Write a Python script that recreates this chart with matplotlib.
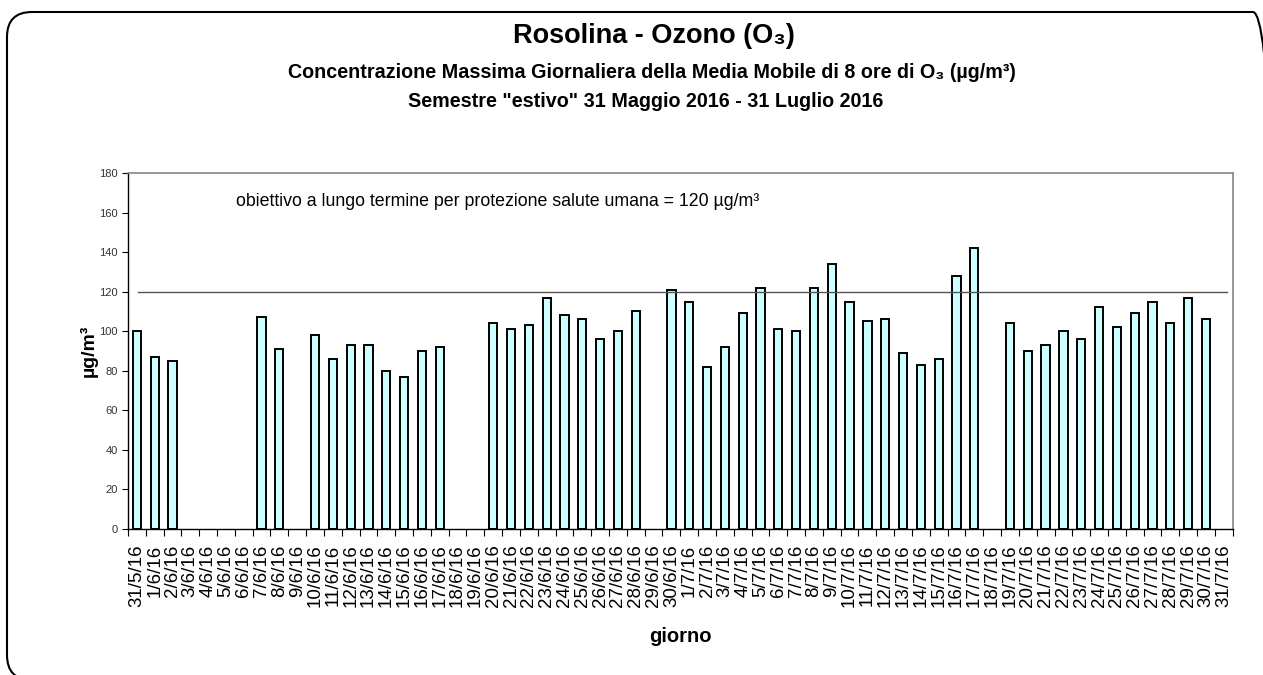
import numpy as np
import matplotlib
matplotlib.use("Agg")
from matplotlib import pyplot as plt
from matplotlib.patches import FancyBboxPatch

plt.rcParams['font.family'] = ['Liberation Sans', 'DejaVu Sans']

# daily labels, 31 May - 31 Jul 2016
days = ['31/5/16'] + ['%d/6/16' % d for d in range(1, 31)] + ['%d/7/16' % d for d in range(1, 32)]

# max daily 8h moving average of O3 (ug/m3), None = no data
june = [100, 87, 85, None, None, None, None, 107, 91, None,
        98, 86, 93, 93, 80, 77, 90, 92, None, None,
        104, 101, 103, 117, 108, 106, 96, 100, 110, None, 121]
july = [115, 82, 92, 109, 122, 101, 100, 122, 134, 115,
        105, 106, 89, 83, 86, 128, 142, None, 104, 90,
        93, 100, 96, 112, 102, 109, 115, 104, 117, 106, None]
values = np.array([np.nan if v is None else v for v in june + july], dtype=float)

target = 120
target_label = 'obiettivo a lungo termine per protezione salute umana = 120 µg/m³'

W, H = 1263, 675
fig = plt.figure(figsize=(W / 100, H / 100), dpi=100)
ax = fig.add_axes([0.1013, 0.2163, 0.8747, 0.5274])

x = np.arange(len(days))
ok = ~np.isnan(values)
ax.bar(x[ok], values[ok], width=0.46, color='#CCFFFF', edgecolor='black', linewidth=1.4, zorder=2)
ax.axhline(target, xmin=0.009, xmax=0.995, color='#555555', linewidth=1.0, zorder=3)

ax.set_xlim(-0.5, len(days) - 0.5)
ax.set_ylim(0, 180)
ax.set_yticks(np.arange(0, 181, 20))
ax.set_xticks(x)
ax.set_xticklabels(days, rotation=90, fontsize=13.5)
ax.set_xticks(np.arange(-0.5, len(days), 1), minor=True)
ax.tick_params(axis='x', which='major', length=0, pad=11)
ax.tick_params(axis='x', which='minor', length=5, direction='out', width=0.8)
ax.tick_params(axis='y', length=4, width=0.8, labelsize=8, colors='black', labelcolor='#333333')

for s in ['top', 'right']:
    ax.spines[s].set_color('#888888')
    ax.spines[s].set_linewidth(1.2)
for s in ['left', 'bottom']:
    ax.spines[s].set_color('black')
    ax.spines[s].set_linewidth(1.0)

ax.set_ylabel('µg/m³', fontsize=14, fontweight='bold')
ax.yaxis.set_label_coords(-0.027, 0.5)
ax.set_xlabel('giorno', fontsize=14.5, fontweight='bold')
ax.xaxis.set_label_coords(0.5, -0.275)
ax.text(0.098, 0.921, target_label, transform=ax.transAxes, fontsize=12.8, va='center', ha='left')

fig.text(0.518, 0.946, 'Rosolina - Ozono (O₃)', ha='center', va='center', fontsize=19.5, fontweight='bold')
fig.text(0.516, 0.892, 'Concentrazione Massima Giornaliera della Media Mobile di 8 ore di O₃ (µg/m³)',
         ha='center', va='center', fontsize=14.2, fontweight='bold')
fig.text(0.511, 0.850, 'Semestre "estivo" 31 Maggio 2016 - 31 Luglio 2016',
         ha='center', va='center', fontsize=14.2, fontweight='bold')

# rounded outer frame, partly outside the picture like the original (inches)
frame = FancyBboxPatch((0.07, -0.05), 12.71, 6.68,
                       boxstyle='round,pad=0,rounding_size=0.25', transform=fig.dpi_scale_trans,
                       facecolor='none', edgecolor='black', linewidth=1.5)
fig.patches.append(frame)

fig.savefig('out.png', dpi=100)
